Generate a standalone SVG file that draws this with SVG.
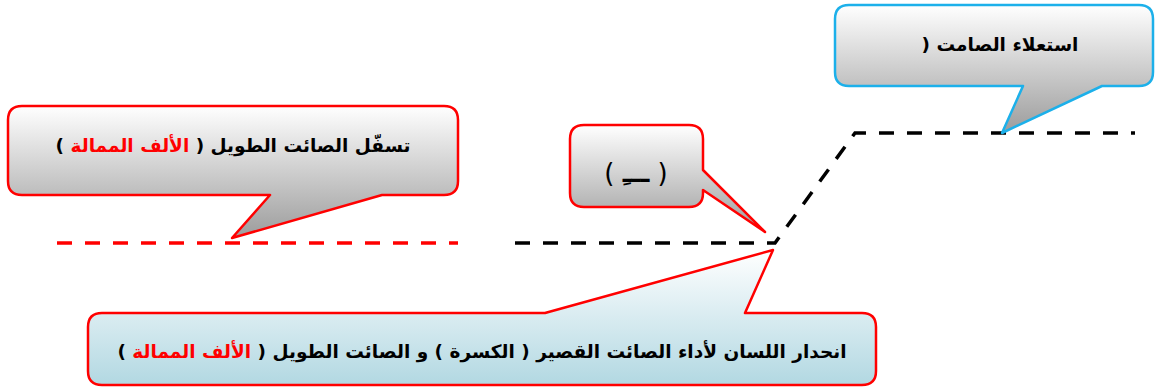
<svg xmlns="http://www.w3.org/2000/svg" width="1155" height="390" viewBox="0 0 1155 390">
<defs>
<linearGradient id="gGray" x1="0" y1="0" x2="0" y2="1">
<stop offset="0" stop-color="#ffffff"/>
<stop offset="1" stop-color="#9c9c9c"/>
</linearGradient>
<linearGradient id="gBlue" x1="0" y1="0" x2="0" y2="1">
<stop offset="0" stop-color="#ffffff"/>
<stop offset="1" stop-color="#b2d8e2"/>
</linearGradient>
<style>
.call{stroke-width:2.5;stroke-linejoin:round}
.red{stroke:#ff0000}
.blue{stroke:#1cb0ea}
.lbl{font-family:"DejaVu Sans",sans-serif;font-weight:bold;font-size:18.5px;fill:#000;text-anchor:middle;direction:rtl}
.hl{fill:#ff0000}
.dash{fill:none;stroke-width:3.5;stroke-dasharray:15 13}
</style>
</defs>
<g id="connectors">
<path class="dash" d="M57,243 H458" stroke="#ff0000"/>
<path class="dash" d="M515,243 H775 L855,133 H1135" stroke="#000"/>
</g>
<g id="node-istila">
<path class="call blue" fill="url(#gGray)" d="M849,5 H1139 Q1153,5 1153,19 V72 Q1153,86 1139,86 H1102 L1002,133 L1023,86 H849 Q835,86 835,72 V19 Q835,5 849,5 Z"/>
<text class="lbl" x="1000" y="51">استعلاء الصامت (</text>
</g>
<g id="node-tasafful">
<path class="call red" fill="url(#gGray)" d="M22,106 H444 Q458,106 458,120 V181 Q458,195 444,195 H382 L232,238 L270,195 H22 Q8,195 8,181 V120 Q8,106 22,106 Z"/>
<text class="lbl" x="233" y="152">تسفّل الصائت الطويل ( <tspan class="hl">الألف الممالة</tspan> )</text>
</g>
<g id="node-kasra">
<path class="call red" fill="url(#gGray)" d="M584,125 H689 Q703,125 703,139 V170 L765,232 L703,190 V193 Q703,207 689,207 H584 Q570,207 570,193 V139 Q570,125 584,125 Z"/>
<text class="lbl" x="636" y="182" style="font-weight:normal;font-size:26px">( <tspan style="font-weight:bold">ـــِ</tspan> )</text>
</g>
<g id="node-inhidar">
<path class="call red" fill="url(#gBlue)" d="M102,313 H545 L773,250 L745,313 H862 Q876,313 876,327 V371 Q876,385 862,385 H102 Q88,385 88,371 V327 Q88,313 102,313 Z"/>
<text class="lbl" x="482" y="358">انحدار اللسان لأداء الصائت القصير ( الكسرة ) و الصائت الطويل ( <tspan class="hl">الألف الممالة</tspan> )</text>
</g>
</svg>
